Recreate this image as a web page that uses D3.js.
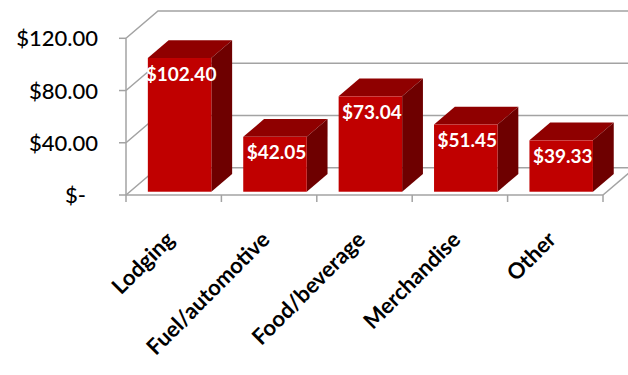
<!DOCTYPE html>
<html><head><meta charset="utf-8">
<script src="https://cdn.jsdelivr.net/npm/d3@7"></script>
<style>body{margin:0;background:#fff}svg{display:block}</style>
</head><body>
<script>
const categories = ["Lodging","Fuel/automotive","Food/beverage","Merchandise","Other"];
const values = [102.40, 42.05, 73.04, 51.45, 39.33];
const yTicks = [0, 40, 80, 120];
const yTickLabels = ["$-", "$40.00", "$80.00", "$120.00"];

const W = 628, H = 375;
const svg = d3.select("body").append("svg").attr("width", W).attr("height", H);

const x = d3.scaleBand().domain(categories).range([126, 603]);
const y = d3.scaleLinear().domain([0, 120]).range([195, 38.3]);
const DX = 32, DY = -27.3;          // depth vector of the plot box
const f0 = 0.12, f1 = 0.77;         // bar front/back depth fractions
const barOff = 18, barW = 63.5;
const grid = "#a3a3a3";

// walls / gridlines
const g = svg.append("g").attr("fill", "none").attr("stroke", grid).attr("stroke-width", 1.5);
yTicks.forEach(t => {
  const yy = y(t);
  g.append("path").attr("d", `M126,${yy}L${126+DX},${yy+DY}L${603+DX+40},${yy+DY}`);
  g.append("line").attr("x1", 119).attr("x2", 126).attr("y1", yy).attr("y2", yy);
});
g.append("line").attr("x1", 603).attr("y1", y(0)).attr("x2", 603+DX).attr("y2", y(0)+DY);
g.append("line").attr("x1", 126).attr("x2", 126).attr("y1", y(0)).attr("y2", y(120));
g.append("line").attr("x1", 126).attr("x2", 603).attr("y1", y(0)).attr("y2", y(0));
const xb = categories.map(c => x(c)).concat([x.range()[1]]);
xb.forEach(v => g.append("line").attr("x1", v).attr("x2", v).attr("y1", y(0)).attr("y2", y(0)+7));

// bars
const bars = svg.append("g");
categories.forEach((c, i) => {
  const xl = x(c) + barOff + DX*f0;
  const xr = xl + barW;
  const yb = y(0) + DY*f0;
  const yt = y(values[i]) + DY*f0;
  const ddx = DX*(f1-f0), ddy = DY*(f1-f0);
  const b = bars.append("g");
  b.append("path").attr("fill", "#8f0000")
    .attr("d", `M${xl},${yt}L${xl+ddx},${yt+ddy}L${xr+ddx},${yt+ddy}L${xr},${yt}Z`);
  b.append("path").attr("fill", "#6e0000")
    .attr("d", `M${xr},${yt}L${xr+ddx},${yt+ddy}L${xr+ddx},${yb+ddy}L${xr},${yb}Z`);
  b.append("rect").attr("fill", "#c00000").attr("x", xl).attr("y", yt).attr("width", barW).attr("height", yb-yt);
  b.append("text").attr("x", xl + barW/2 + 1.5).attr("y", yt + 22.5)
    .attr("text-anchor", "middle").attr("fill", "#fff")
    .attr("font-family", "Lato").attr("font-weight", "bold").attr("font-size", 19)
    .text("$" + values[i].toFixed(2));
});

// y tick labels
yTicks.forEach((t, i) => {
  svg.append("text").attr("x", t === 0 ? 86 : 98).attr("y", y(t) + 8)
    .attr("text-anchor", "end").attr("font-family", "Lato").attr("font-weight", 500).attr("font-size", 22).attr("fill", "#000")
    .text(yTickLabels[i]);
});

// category labels
categories.forEach(c => {
  const cx = x(c) + x.bandwidth()/2 + 2;
  svg.append("text").attr("transform", `translate(${cx},${241}) rotate(-45)`)
    .attr("text-anchor", "end").attr("font-family", "Lato").attr("font-weight", "bold").attr("font-size", 22)
    .attr("fill", "#000").text(c);
});
</script>
</body></html>
